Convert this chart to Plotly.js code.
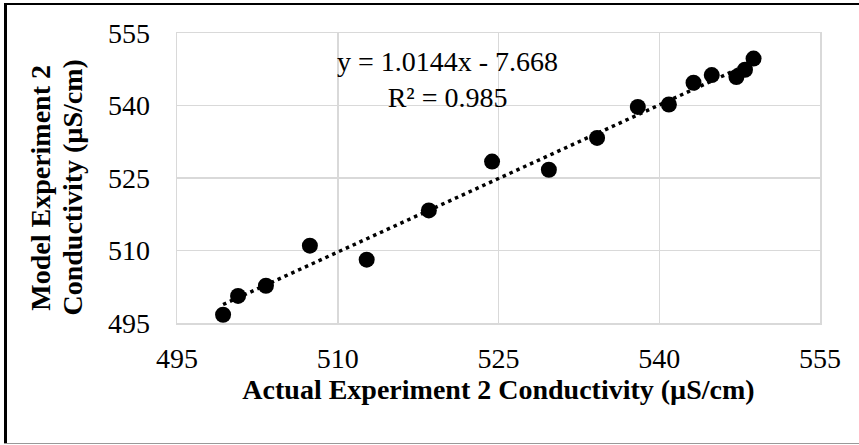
<!DOCTYPE html>
<html>
<head>
<meta charset="utf-8">
<script src="https://cdn.plot.ly/plotly-3.0.1.min.js"></script>
<style>
  html, body { margin: 0; padding: 0; background: #fff; }
  #wrap { position: relative; width: 859px; height: 445px; overflow: hidden; }
  #chart { position: absolute; left: 0; top: 0; width: 859px; height: 445px; }
  .b { position: absolute; pointer-events: none; }
</style>
</head>
<body>
<div id="wrap">
  <div id="chart"></div>
  <div class="b" style="left:4px; top:3px; width:855px; height:2px; background:#000;"></div>
  <div class="b" style="left:4px; top:3px; width:3px; height:441px; background:#000;"></div>
  <div class="b" style="left:4px; top:443px; width:855px; height:1px; background:#999;"></div>
</div>
<script>
// Actual vs model conductivity (µS/cm)
const actual = [499.3, 500.7, 503.3, 507.4, 512.7, 518.5, 524.4, 529.7, 534.2, 538.0, 540.9, 543.2, 544.9, 547.2, 548.0, 548.8];
const model  = [496.7, 500.6, 502.7, 511.0, 508.1, 518.3, 528.4, 526.7, 533.3, 539.7, 540.2, 544.7, 546.3, 545.9, 547.4, 549.7];
const tickVals = [495, 510, 525, 540, 555];
const trendSlope = 1.0144;
const trendIntercept = -7.668;
const eqText = "y = 1.0144x - 7.668<br>R² = 0.985";
const xTitle = "Actual Experiment 2 Conductivity (µS/cm)";
const yTitleLines = ["Model Experiment 2", "Conductivity (µS/cm)"];

const xMin = Math.min(...actual), xMax = Math.max(...actual);
const trendX = [xMin, xMax];
const trendY = trendX.map(v => trendSlope * v + trendIntercept);

const font = '"Liberation Serif", "Times New Roman", serif';

const data = [
  {
    x: trendX, y: trendY, type: 'scatter', mode: 'lines',
    line: { color: '#000', width: 3.5, dash: '3.5px,4px' },
    hoverinfo: 'skip', showlegend: false
  },
  {
    x: actual, y: model, type: 'scatter', mode: 'markers',
    marker: { color: '#000', size: 16 },
    showlegend: false
  }
];

const axisCommon = {
  range: [495, 555],
  tickvals: tickVals,
  ticktext: tickVals.map(String),
  showgrid: true, gridcolor: '#d9d9d9', gridwidth: 1.5,
  zeroline: false,
  showline: true, linecolor: '#d9d9d9', linewidth: 1.5, mirror: true,
  ticks: '',
  tickfont: { family: font, size: 28, color: '#000' }
};

const layout = {
  width: 859, height: 445,
  margin: { l: 177, r: 39, t: 33, b: 122 },
  paper_bgcolor: '#fff', plot_bgcolor: '#fff',
  showlegend: false,
  font: { family: font, color: '#000' },
  xaxis: Object.assign({}, axisCommon, {
    ticklabelstandoff: 10,
    title: { text: '<b>' + xTitle + '</b>', font: { family: font, size: 28, color: '#000' }, standoff: 6 }
  }),
  yaxis: Object.assign({}, axisCommon, {
    ticklabelstandoff: 20
  }),
  annotations: [
    {
      xref: 'paper', yref: 'paper', x: 0.42, y: 0.84,
      xanchor: 'center', yanchor: 'middle', align: 'center',
      text: eqText, showarrow: false,
      font: { family: font, size: 28, color: '#000' }
    },
    {
      xref: 'paper', yref: 'paper', x: -0.2135, y: 0.4655,
      xanchor: 'center', yanchor: 'middle', textangle: -90,
      text: '<b>' + yTitleLines[0] + '</b>', showarrow: false,
      font: { family: font, size: 28, color: '#000' }
    },
    {
      xref: 'paper', yref: 'paper', x: -0.164, y: 0.4655,
      xanchor: 'center', yanchor: 'middle', textangle: -90,
      text: '<b>' + yTitleLines[1] + '</b>', showarrow: false,
      font: { family: font, size: 28, color: '#000' }
    }
  ]
};

Plotly.newPlot('chart', data, layout, { displayModeBar: false, staticPlot: true });
</script>
</body>
</html>
